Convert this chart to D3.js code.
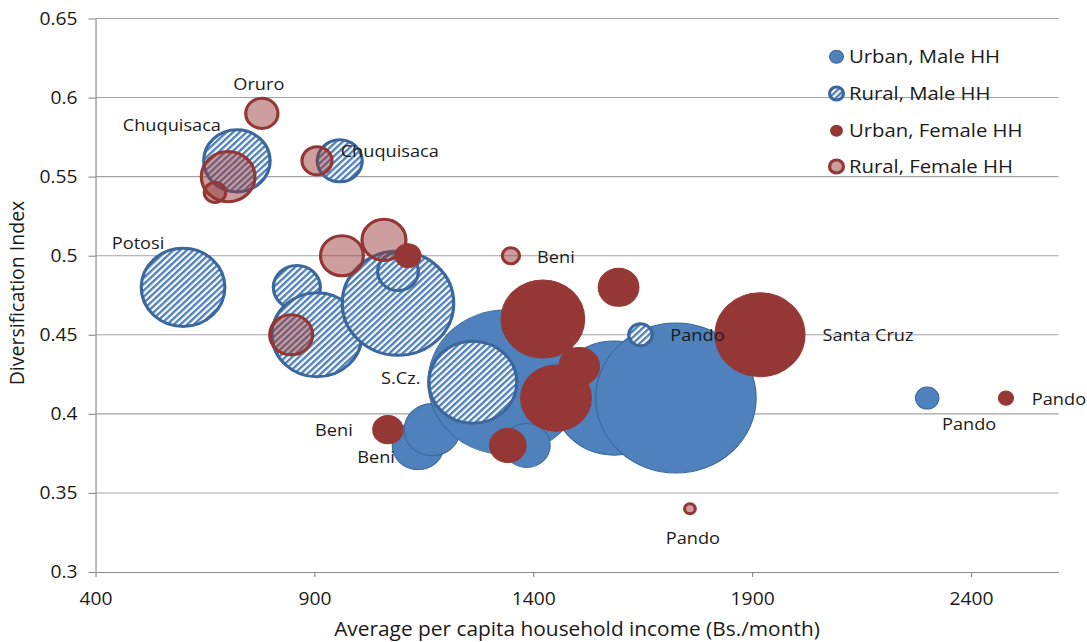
<!DOCTYPE html>
<html>
<head>
<meta charset="utf-8">
<script src="https://cdn.jsdelivr.net/npm/d3@7"></script>
<style>
  body { margin: 0; background: #fff; }
  svg { display: block; }
  text { font-family: "Open Sans", "Noto Sans", sans-serif; fill: #1a1a1a; }
</style>
</head>
<body>
<svg id="chart" width="1087" height="642"></svg>
<script>
// ---- Data: income (Bs./month), diversification index, bubble size, department ----
const urbanMaleIncome = [1726, 1336, 1585, 1385, 1169, 1137, 2300];
const urbanMaleIndex  = [0.41, 0.42, 0.41, 0.38, 0.39, 0.38, 0.41];
const urbanMaleSize   = [5600, 5180, 3250, 480, 680, 580, 120];
const urbanMaleName   = ["", "", "", "", "", "Beni", "Pando"];

const ruralMaleIncome = [723, 958, 600, 860, 906, 1091, 1091, 1262, 1645];
const ruralMaleIndex  = [0.56, 0.56, 0.48, 0.48, 0.45, 0.47, 0.49, 0.42, 0.45];
const ruralMaleSize   = [960, 440, 1520, 480, 1760, 2700, 360, 1680, 120];
const ruralMaleName   = ["Chuquisaca", "Chuquisaca", "Potosi", "", "", "", "", "S.Cz.", "Pando"];

const urbanFemaleIncome = [1918, 2480, 1422, 1595, 1452, 1505, 1342, 1068, 1114];
const urbanFemaleIndex  = [0.45, 0.41, 0.46, 0.48, 0.41, 0.43, 0.38, 0.39, 0.50];
const urbanFemaleSize   = [1760, 50, 1520, 360, 1090, 360, 290, 200, 145];
const urbanFemaleName   = ["Santa Cruz", "Pando", "", "", "", "", "", "Beni", ""];

const ruralFemaleIncome = [780, 703, 673, 906, 963, 1059, 847, 1349, 1758];
const ruralFemaleIndex  = [0.59, 0.55, 0.54, 0.56, 0.50, 0.51, 0.45, 0.50, 0.34];
const ruralFemaleSize   = [225, 625, 100, 196, 400, 420, 400, 64, 25];
const ruralFemaleName   = ["Oruro", "", "", "", "", "", "", "Beni", "Pando"];

const xTicks = [400, 900, 1400, 1900, 2400];
const yTicks = [0.3, 0.35, 0.4, 0.45, 0.5, 0.55, 0.6, 0.65];
const legendLabels = ["Urban, Male HH", "Rural, Male HH", "Urban, Female HH", "Rural, Female HH"];

// ---- Layout ----
const sx = 1.07;                 // horizontal stretch applied to the whole drawing
const svg = d3.select("#chart");
const defs = svg.append("defs");

defs.append("pattern")
    .attr("id", "hatch")
    .attr("patternUnits", "userSpaceOnUse")
    .attr("width", 4.4).attr("height", 4.4)
    .attr("patternTransform", "rotate(45)")
  .call(p => {
    p.append("rect").attr("width", 4.4).attr("height", 4.4).attr("fill", "#fff");
    p.append("rect").attr("width", 2.3).attr("height", 4.4).attr("fill", "#4F81BD");
  });

const root = svg.append("g").attr("transform", `scale(${sx},1)`);

const x = d3.scaleLinear().domain([400, 2600]).range([95.5 / sx, 1058.5 / sx]);
const y = d3.scaleLinear().domain([0.3, 0.65]).range([572, 18.5]);
const r = d3.scaleSqrt().domain([0, 5600]).range([0, 75]);

// gridlines
root.append("g").selectAll("line")
  .data(yTicks.filter(t => t > 0.3))
  .join("line")
    .attr("x1", x(400)).attr("x2", x(2600))
    .attr("y1", d => y(d)).attr("y2", d => y(d))
    .attr("stroke", "#a3a3a3").attr("stroke-width", 1.1);

// axes
const yAxis = root.append("g")
  .attr("transform", `translate(${x(400)},0)`)
  .call(d3.axisLeft(y).tickValues(yTicks).tickFormat(String)
        .tickSize(7 / sx).tickSizeOuter(0).tickPadding(11 / sx));
const xAxis = root.append("g")
  .attr("transform", `translate(0,${y(0.3)})`)
  .call(d3.axisBottom(x).tickValues(xTicks).tickFormat(String)
        .tickSize(5).tickSizeOuter(0).tickPadding(15));
[yAxis, xAxis].forEach(a => {
  a.select(".domain").attr("stroke", "#8c8c8c").attr("stroke-width", 1.1);
  a.selectAll(".tick line").attr("stroke", "#8c8c8c").attr("stroke-width", 1.1);
  a.selectAll(".tick text").attr("font-size", 18).attr("fill", "#1a1a1a")
    .attr("font-family", "'Open Sans', sans-serif");
});

// axis titles
root.append("text")
  .attr("x", 577 / sx).attr("y", 636)
  .attr("text-anchor", "middle").attr("font-size", 19.5)
  .text("Average per capita household income (Bs./month)");
root.append("text")
  .attr("transform", `translate(${24 / sx},293) rotate(-90)`)
  .attr("text-anchor", "middle").attr("font-size", 19.5)
  .text("Diversification Index");

// series styles, drawn bottom to top
const series = [
  { key: "um", income: urbanMaleIncome, index: urbanMaleIndex, size: urbanMaleSize, name: urbanMaleName,
    fill: "#4F81BD", fillOpacity: 1, stroke: "#3A679A", strokeWidth: 1 },
  { key: "rm", income: ruralMaleIncome, index: ruralMaleIndex, size: ruralMaleSize, name: ruralMaleName,
    fill: "url(#hatch)", fillOpacity: 1, stroke: "#3B679C", strokeWidth: 3 },
  { key: "rf", income: ruralFemaleIncome, index: ruralFemaleIndex, size: ruralFemaleSize, name: ruralFemaleName,
    fill: "#943634", fillOpacity: 0.48, stroke: "#943634", strokeWidth: 3 },
  { key: "uf", income: urbanFemaleIncome, index: urbanFemaleIndex, size: urbanFemaleSize, name: urbanFemaleName,
    fill: "#953735", fillOpacity: 1, stroke: "#953735", strokeWidth: 1 }
];

// label offsets from bubble centre (screen px), keyed by series and point
const labelOffset = {
  "um:5": [-42, 12], "um:6": [42, 26],
  "rm:0": [-65, -36], "rm:1": [50, -10], "rm:2": [-45, -44], "rm:7": [-72, -4], "rm:8": [57, 0],
  "rf:0": [-3, -29], "rf:7": [45, 1], "rf:8": [3, 29],
  "uf:0": [108, 0], "uf:1": [53, 1], "uf:7": [-54, 0]
};

const bubbles = root.append("g");
const labels = root.append("g");

series.forEach(s => {
  const pts = s.income.map((v, i) => ({ i, income: v, index: s.index[i], size: s.size[i], name: s.name[i] }));
  // within a group, bubbles are stacked in order of increasing income
  const ordered = pts.slice().sort((a, b) => a.income - b.income || a.index - b.index);
  bubbles.append("g").selectAll("circle")
    .data(ordered)
    .join("circle")
      .attr("cx", d => x(d.income))
      .attr("cy", d => y(d.index))
      .attr("r", d => r(d.size))
      .attr("fill", s.fill)
      .attr("fill-opacity", s.fillOpacity)
      .attr("stroke", s.stroke)
      .attr("stroke-width", s.strokeWidth);
  pts.filter(d => d.name).forEach(d => {
    const off = labelOffset[`${s.key}:${d.i}`] || [0, 0];
    labels.append("text")
      .attr("x", x(d.income) + off[0] / sx)
      .attr("y", y(d.index) + off[1])
      .attr("dy", "0.35em")
      .attr("text-anchor", "middle")
      .attr("font-size", 17)
      .text(d.name);
  });
});

// legend
const legend = root.append("g");
const legendY = [56.7, 93.5, 130.7, 166.5];
const legendMarks = [
  { r: 6.5, fill: "#4F81BD", op: 1, stroke: "#3A679A", sw: 1 },
  { r: 6.5, fill: "url(#hatch)", op: 1, stroke: "#3B679C", sw: 3 },
  { r: 5.5, fill: "#953735", op: 1, stroke: "#953735", sw: 1 },
  { r: 6.5, fill: "#943634", op: 0.48, stroke: "#943634", sw: 3 }
];
legendLabels.forEach((lab, i) => {
  const m = legendMarks[i];
  legend.append("circle")
    .attr("cx", 836.5 / sx).attr("cy", legendY[i]).attr("r", m.r)
    .attr("fill", m.fill).attr("fill-opacity", m.op)
    .attr("stroke", m.stroke).attr("stroke-width", m.sw);
  legend.append("text")
    .attr("x", 849 / sx).attr("y", legendY[i]).attr("dy", "0.35em")
    .attr("font-size", 19)
    .text(lab);
});
</script>
</body>
</html>
